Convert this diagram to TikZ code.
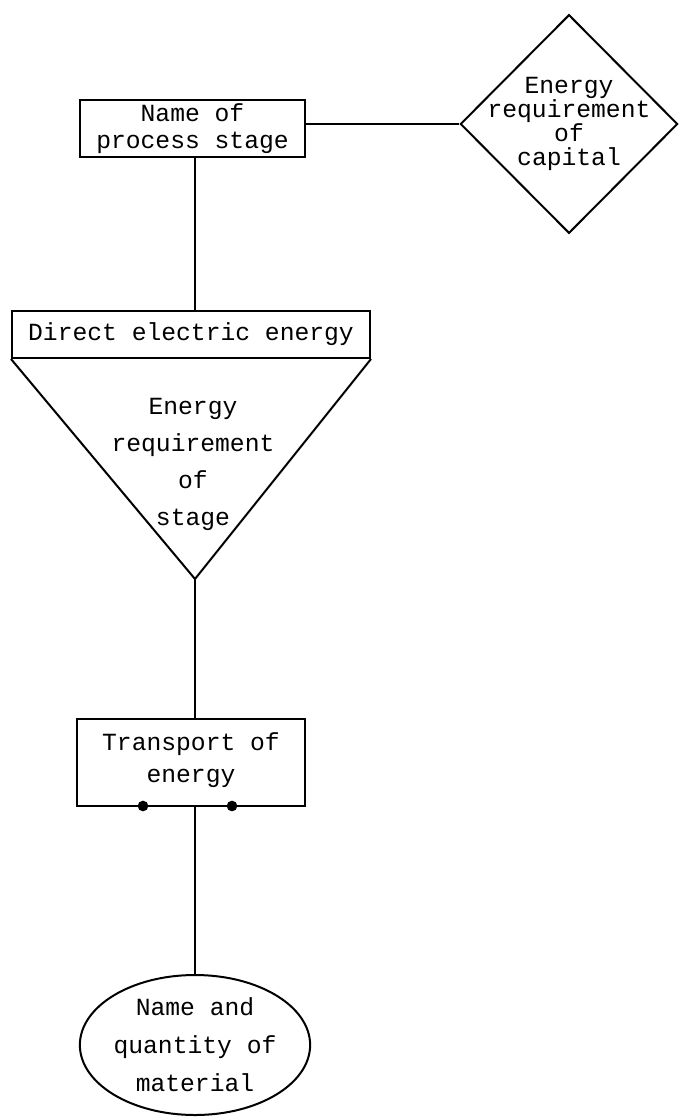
\documentclass[tikz,border=0pt]{standalone}
\usepackage{fontspec}
\setmainfont{Liberation Mono}
\usetikzlibrary{shapes.geometric,positioning}

\begin{document}
\begin{tikzpicture}[x=0.75pt, y=-0.75pt, line width=1.5pt,
  box/.style={draw, rectangle, align=center, inner sep=0pt},
  txt/.style={font=\fontsize{18.5}{#1}\selectfont},
  dot/.style={circle, fill, inner sep=0pt, minimum size=8pt}]
  \useasboundingbox (0,0) rectangle (679,1120);

  \node[box, txt=20, minimum width=168.75pt, minimum height=42.75pt] (stage) at (192.5,128.5) {Name of\\process stage};
  \node[draw, diamond, inner sep=0pt, minimum width=163pt, minimum height=164pt,
    label={[align=center, inner sep=0pt, txt=18]center:{Energy\\requirement\\of\\capital}}] (capital) at (569,124) {};
  \node[box, txt=24, minimum width=268.5pt, minimum height=35.25pt] (direct) at (191,334.5) {Direct electric energy};
  \coordinate (apex) at (195,579);
  \node[align=center, inner sep=0pt, txt=27.75] (req) at (193,464) {Energy\\requirement\\of\\stage};
  \node[box, txt=24, minimum width=171pt, minimum height=65.25pt] (transport) at (191,762.5) {Transport of\\energy\\[-16pt]};
  \node[dot] (d1) at (143,806) {};
  \node[dot] (d2) at (232,806) {};
  \node[draw, ellipse, align=center, inner sep=0pt, txt=28.5, minimum width=172.5pt, minimum height=105pt] (material) at (195,1045) {Name and\\quantity of\\material};

  % triangle under the direct energy box
  \draw (direct.south west) -- (apex) -- (direct.south east);

  \draw (stage.east |- capital.west) -- (capital.west);
  \draw (stage.south -| apex) -- (direct.north -| apex);
  \draw (apex) -- (transport.north -| apex);
  \draw (transport.south -| apex) -- (material);
\end{tikzpicture}
\end{document}
